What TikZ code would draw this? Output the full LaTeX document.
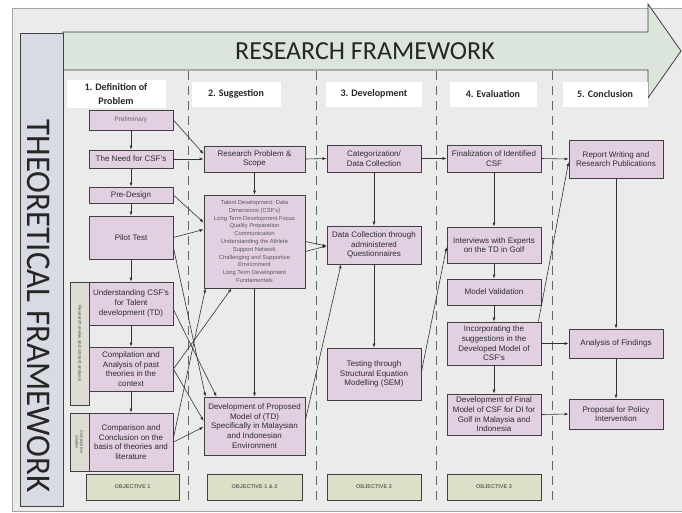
\documentclass[tikz,border=0pt]{standalone}
\usepackage{fontspec}
\setmainfont{Liberation Sans}
\newfontfamily\headfont{Carlito}
\usetikzlibrary{arrows.meta}

\definecolor{panelgray}{RGB}{235,235,235}
\definecolor{boxfill}{RGB}{226,207,226}
\definecolor{objfill}{RGB}{222,223,201}
\definecolor{stripfill}{RGB}{223,220,213}
\definecolor{barfill}{RGB}{217,219,228}
\definecolor{arrowfill}{RGB}{220,229,220}
\definecolor{edgegray}{RGB}{64,64,64}
\definecolor{textgray}{RGB}{45,45,45}

\tikzset{
  box/.style={draw=edgegray, line width=0.8pt, fill=boxfill, align=center, inner sep=1pt,
    text=textgray, font=\fontsize{8}{9.6}\selectfont, minimum width=94pt, minimum height=#1},
  box/.default=26pt,
  narrow/.style={minimum width=84pt},
  wide/.style={minimum width=101pt},
  listtext/.style={font=\fontsize{5.8}{7.8}\selectfont, text=black!65},
  objbox/.style={draw=edgegray, line width=0.8pt, fill=objfill, minimum width=94pt, minimum height=26pt,
    text=black!60, font=\bfseries\fontsize{5.5}{6.6}\selectfont},
  stripbox/.style={draw=edgegray, line width=0.8pt, fill=stripfill, rotate=-90, align=center,
    minimum height=19pt, inner sep=0pt, text=black!70},
  headbox/.style={fill=white, align=center, minimum height=25pt,
    font=\headfont\bfseries\fontsize{10}{14}\selectfont, text=black!85},
  arr/.style={-{Latex[length=4pt,width=3pt]}, line width=0.6pt, draw=black!80},
  sepline/.style={dash pattern=on 9pt off 6pt, line width=1pt, draw=black!60},
}

\begin{document}
\begin{tikzpicture}[x=1pt, y=-1pt]
    \useasboundingbox (0,0) rectangle (682,512);
    \fill[white] (0,0) rectangle (682,512);
    \draw[fill=panelgray, draw=black!35] (12,8) rectangle (690,511);

    % research framework arrow
    \draw[draw=edgegray, fill=arrowfill, line width=0.8pt]
        (63,32) -- (648,32) -- (648,4) -- (681,51) -- (648,98) -- (648,70) -- (63,70) -- cycle;
    \node[font=\headfont\fontsize{26}{28}\selectfont, text=black!85] at (365,51) (rf) {RESEARCH FRAMEWORK};

    % theoretical framework bar
    \node[draw=edgegray, fill=barfill, line width=0.8pt, minimum width=43pt, minimum height=473pt, inner sep=0pt]
        at (41.5,270) (theory) {};
    \node[rotate=-90, font=\headfont\fontsize{33}{34}\selectfont, text=black!85] at (38.5,306) (tf)
        {\scalebox{1}[1.05]{THEORETICAL FRAMEWORK}};

    % column headers
    \node[headbox, minimum width=99pt] at (116,94) (h1) {1. Definition of\\Problem};
    \node[headbox, minimum width=89pt] at (236,94) (h2) {2. Suggestion};
    \node[headbox, minimum width=96pt] at (374,94) (h3) {3. Development};
    \node[headbox, minimum width=87pt] at (493,94) (h4) {4. Evaluation};
    \node[headbox, minimum width=85pt] at (605,94) (h5) {5. Conclusion};

    \foreach \sx in {188,316,436,552}
        \draw[sepline] (\sx,71) -- (\sx,502);

    % 1. definition of problem
    \node[box=20pt, narrow, font=\fontsize{6.5}{8}\selectfont, text=black!60] at (131,120) (prelim) {Preliminary};
    \node[box=18pt, narrow] at (131,159) (need) {The Need for CSF's};
    \node[box=16pt, narrow] at (131,195) (predesign) {Pre-Design};
    \node[box=43pt, narrow] at (131,237.5) (pilot) {Pilot Test};
    \node[box=43pt, narrow] at (131,303.5) (understand) {Understanding CSF's\\for Talent\\development (TD)};
    \node[box=44pt, narrow] at (131,369) (compile) {Compilation and\\Analysis of past\\theories in the\\context};
    \node[box=58pt, narrow] at (131,442) (compare) {Comparison and\\Conclusion on the\\basis of theories and\\literature};
    \node[stripbox, minimum width=123pt, font=\fontsize{4.5}{5}\selectfont] at (79.5,343.5) (review)
        {Research review and content analysis};
    \node[stripbox, minimum width=58pt, font=\fontsize{4}{4.8}\selectfont] at (79.5,442) (studies)
        {Comparative\\Studies};
    \node[objbox, minimum width=93pt] at (132.5,487) (obj1) {OBJECTIVE 1};

    % 2. suggestion
    \node[box=26pt, wide] at (254.5,159) (problem) {Research Problem \&\\Scope};
    \node[box=93pt, wide, listtext] at (254.5,241.5) (dimensions)
        {Talent Development: Data\\Dimensions (CSF's)\\Long Term Development Focus\\Quality Preparation\\
         Communication\\Understanding the Athlete\\Support Network\\Challenging and Supportive\\
         Environment\\Long Term Development\\Fundamentals};
    \node[box=58pt, wide] at (254.5,426) (proposed)
        {Development of Proposed\\Model of (TD)\\Specifically in Malaysian\\and Indonesian\\Environment};
    \node[objbox, minimum width=95pt] at (254.5,487) (obj12) {OBJECTIVE 1 \& 2};

    % 3. development
    \node[box=27pt] at (374,158.5) (categorize) {Categorization/\\Data Collection};
    \node[box=38pt] at (374,245) (survey) {Data Collection through\\administered\\Questionnaires};
    \node[box=52pt] at (374,374) (sem) {Testing through\\Structural Equation\\Modelling (SEM)};
    \node[objbox] at (374,487) (obj2) {OBJECTIVE 2};

    % 4. evaluation
    \node[box=27pt] at (494,158.5) (finalize) {Finalization of Identified\\CSF};
    \node[box=36pt] at (494,245) (interview) {Interviews with Experts\\on the TD in Golf};
    \node[box=26pt] at (494,292) (validate) {Model Validation};
    \node[box=43pt] at (494,343.5) (incorporate) {Incorporating the\\suggestions in the\\Developed Model of\\CSF's};
    \node[box=41pt] at (494,414.5) (finalmodel) {Development of Final\\Model of CSF for DI for\\Golf in Malaysia and\\Indonesia};
    \node[objbox] at (494,487) (obj3) {OBJECTIVE 3};

    % 5. conclusion
    \node[box=38pt] at (616,159) (report) {Report Writing and\\Research Publications};
    \node[box=29pt] at (616,343.5) (findings) {Analysis of Findings};
    \node[box=30pt] at (616,414) (policy) {Proposal for Policy\\Intervention};

    % connectors
    \draw [arr] (prelim) -- (need);
    \draw [arr] (need) -- (predesign);
    \draw [arr] (predesign) -- (pilot);
    \draw [arr] (pilot) -- (understand);
    \draw [arr] (understand) -- (compile);
    \draw [arr] (compile) -- (compare);
    \draw [arr] (prelim.east) -- ([yshift=5pt]problem.west);
    \draw [arr] (need.east) -- (problem.west);
    \draw [arr] (predesign.east) -- ([yshift=19pt]dimensions.west);
    \draw [arr] (pilot.east) -- ([yshift=12pt]dimensions.west);
    \draw [arr] ([yshift=-10pt]pilot.east) -- ([xshift=-49pt]proposed.north);
    \draw [arr] ([yshift=-6pt]understand.east) -- ([xshift=-38pt]proposed.north);
    \draw [arr] (compile.east) -- ([xshift=-23pt]dimensions.south);
    \draw [arr] (compile.east) -- ([yshift=5pt]proposed.west);
    \draw [arr] ([yshift=4pt]compare.east) -- ([xshift=-49pt]dimensions.south);
    \draw [arr] (compare.east) -- ([yshift=-1pt]proposed.west);

    \draw [arr] (problem) -- (dimensions);
    \draw [arr] (dimensions) -- (proposed);
    \draw [arr] (problem.east) -- (categorize.west);
    \draw [arr] (dimensions.east) -- ([yshift=-1pt]survey.west);
    \draw [arr] ([yshift=-10pt]dimensions.east) -- ([yshift=-1pt]survey.west);
    \draw [arr] ([yshift=6pt]proposed.east) -- ([xshift=-33pt]survey.south);

    \draw [arr] (categorize) -- (survey);
    \draw [arr] (survey) -- (sem);
    \draw [arr] (categorize.east) -- (finalize.west);
    \draw [arr] ([yshift=2pt]sem.east) -- ([yshift=-2pt]interview.west);

    \draw [arr] (finalize) -- (interview);
    \draw [arr] (interview) -- (validate);
    \draw [arr] (validate) -- (incorporate);
    \draw [arr] (incorporate) -- (finalmodel);
    \draw [arr] (finalize.east) -- (report.west);
    \draw [arr] ([xshift=-3pt]incorporate.north east) -- ([yshift=-3pt]report.west);
    \draw [arr] (incorporate.east) -- (findings.west);
    \draw [arr] (finalmodel.east) -- (policy.west);

    \draw [arr] (report) -- (findings);
    \draw [arr] (findings) -- (policy);
\end{tikzpicture}
\end{document}
